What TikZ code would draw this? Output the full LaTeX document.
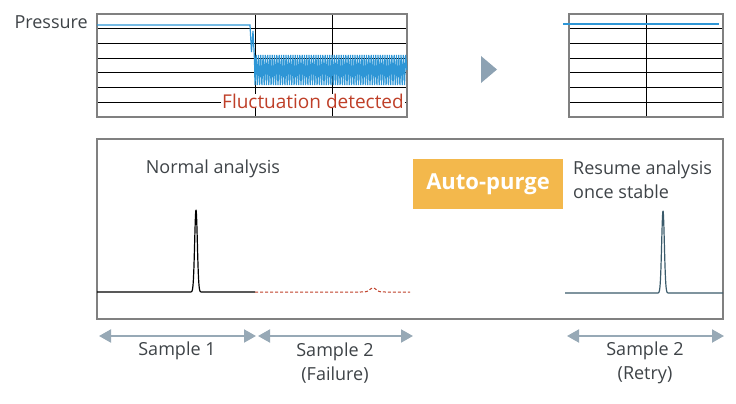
\documentclass[tikz,border=0pt]{standalone}
\usepackage{fontspec}
\setmainfont{Open Sans}
\usetikzlibrary{arrows.meta,positioning}
\definecolor{txtgray}{HTML}{3E4347}
\definecolor{framegray}{HTML}{808080}
\definecolor{traceblue}{HTML}{2E96D6}
\definecolor{alertred}{HTML}{BF3F28}
\definecolor{purgeorange}{HTML}{F3B84C}
\definecolor{spangray}{HTML}{97A9B6}
\definecolor{retryteal}{HTML}{3A5A6A}
\definecolor{markgray}{HTML}{8DA2B3}

\begin{document}
\begin{tikzpicture}[x=1pt,y=-1pt,
  note/.style={text=txtgray,font=\fontsize{18}{24}\selectfont,inner sep=1pt},
  gridline/.style={draw=black,line width=0.9pt},
  chartframe/.style={draw=framegray,line width=1.3pt},
  pressure/.style={draw=traceblue,line width=1.2pt},
  purge/.style={fill=purgeorange,text=white,minimum width=150pt,minimum height=50pt,
    font=\bfseries\fontsize{22}{24}\selectfont},
  span/.style={{Triangle[length=12pt,width=13pt]}-{Triangle[length=12pt,width=13pt]},
    draw=spangray,line width=2pt}
]
  \useasboundingbox (0,0) rectangle (736,404);

  \node[note,anchor=east] (plabel) at (89,22) {Pressure};

  \foreach \i in {1,...,6} \draw[gridline] (97,14+\i*14.71) -- (407,14+\i*14.71);
  \draw[gridline] (255,14) -- (255,117) (332,14) -- (332,117);
  \draw[chartframe] (97,14) rectangle (407,117);
  \draw[pressure] (97,25) -- (250,25) -- (251.5,52) -- (253,31) -- (254.5,60)
    \foreach \i in {0,...,65} { -- (255+\i*2.3,85) -- (256.15+\i*2.3,55) } -- (407,70);
  \node[text=alertred,fill=white,font=\fontsize{19}{22}\selectfont,inner xsep=1pt,inner ysep=0pt]
    (alert) at (313,101) {Fluctuation detected};

  \fill[markgray] (481,56) -- (497,69.5) -- (481,83) -- cycle;

  \foreach \i in {1,...,6} \draw[gridline] (569,14+\i*14.71) -- (723,14+\i*14.71);
  \draw[gridline] (646,14) -- (646,117);
  \draw[chartframe] (569,14) rectangle (723,117);
  \draw[pressure,line width=1.4pt] (563,24) -- (719,24);

  \draw[draw=framegray,line width=1.2pt] (97,139) rectangle (723,319);
  \node[note] (normal) at (213,169) {Normal analysis};
  \node[purge] (purge) at (488,184) {Auto-purge};
  \node[note,anchor=west,align=left] (resume) at (572,180) {Resume analysis\\once stable};

  \draw[black,line width=1.2pt] (97,292) -- (186,292)
    -- plot[domain=186:206,samples=80] (\x,{292-82*exp(-((\x-196)/1.9)^2)}) -- (255,292);
  \draw[alertred,line width=1pt,dash pattern=on 3pt off 2pt] (255,292) -- (360,292)
    -- plot[domain=360:386,samples=40] (\x,{292-4*exp(-((\x-373)/4.5)^2)}) -- (410,292);
  \draw[retryteal,line width=1.2pt] (565,293) -- (653,293)
    -- plot[domain=653:673,samples=80] (\x,{293-82*exp(-((\x-663)/1.9)^2)}) -- (723,293);

  \coordinate (s1a) at (99,336);
  \coordinate (s1b) at (256,336);
  \coordinate (s2a) at (258,336);
  \coordinate (s2b) at (413,336);
  \coordinate (s3a) at (567,336);
  \coordinate (s3b) at (724,336);
  \draw[span] (s1a) -- (s1b);
  \draw[span] (s2a) -- (s2b);
  \draw[span] (s3a) -- (s3b);
  \node[note] (sample1) at (177,351) {Sample 1};
  \node[note,align=center] (sample2) at (335,363) {Sample 2\\(Failure)};
  \node[note,align=center] (retry) at (645,363) {Sample 2\\(Retry)};
\end{tikzpicture}
\end{document}
